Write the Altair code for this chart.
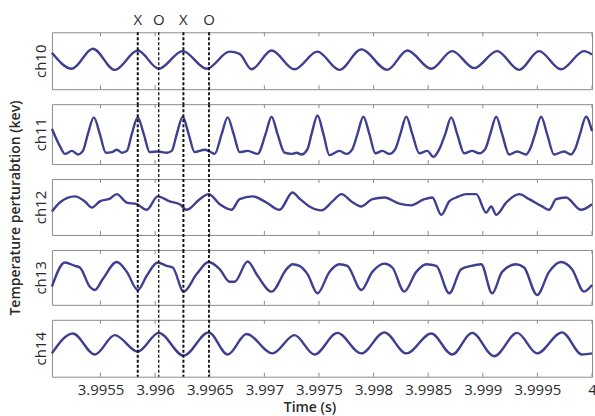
import altair as alt
import pandas as pd

# ---------------- data (times in microseconds after 3.995 s) ----------------
T0 = 3.995

ch10_t = [55, 238, 430, 631, 841, 1033, 1252, 1472, 1682, 1773, 1883, 2066, 2276, 2486,
          2687, 2888, 3126, 3309, 3528, 3720, 3921, 4131, 4333, 4515, 4716, 4927, 5000]
ch10_v = [.64, .36, .71, .34, .68, .36, .67, .36, .66, .62, .35, .68, .35, .66,
          .34, .70, .34, .68, .36, .67, .37, .67, .34, .67, .35, .67, .61]

ch11_t = [55, 128, 174, 238, 293, 339, 384, 439, 494, 549, 604, 649, 695, 741, 786, 841,
          896, 951, 1024, 1106, 1152, 1198, 1253, 1307, 1362, 1454, 1499, 1545, 1609,
          1664, 1719, 1774, 1847, 1938, 2011, 2066, 2121, 2185, 2249, 2295, 2340, 2395,
          2432, 2487, 2541, 2596, 2688, 2752, 2806, 2852, 2907, 2962, 3017, 3081, 3145,
          3199, 3245, 3300, 3355, 3419, 3492, 3547, 3602, 3656, 3711, 3766, 3830, 3903,
          3967, 4022, 4068, 4123, 4177, 4241, 4315, 4397, 4433, 4479, 4534, 4589, 4653,
          4744, 4808, 4845, 4890, 4945, 5000]
ch11_v = [.59, .30, .17, .22, .16, .22, .50, .78, .50, .19, .20, .24, .19, .22, .50, .78,
          .50, .20, .21, .19, .22, .50, .79, .50, .20, .24, .21, .17, .50,
          .78, .50, .20, .22, .17, .50, .79, .50, .19, .17, .19, .16, .25,
          .50, .81, .50, .15, .22, .17, .25, .50, .79, .50, .18, .22, .17,
          .25, .50, .79, .50, .18, .22, .12, .25, .50, .78, .50, .18, .22,
          .18, .25, .50, .79, .50, .16, .21, .16, .25, .50, .79, .50, .16,
          .21, .16, .25, .50, .79, .55]

ch12_t = [55, 128, 265, 357, 421, 494, 585, 649, 741, 832, 923, 1024, 1134, 1225, 1289,
          1408, 1490, 1591, 1700, 1774, 1892, 2020, 2139, 2258, 2322, 2413, 2523, 2623,
          2706, 2797, 2888, 2989, 3099, 3236, 3345, 3464, 3537, 3620, 3693, 3757, 3848,
          3940, 4031, 4077, 4123, 4214, 4333, 4424, 4543, 4607, 4671, 4762, 4899, 5000]
ch12_v = [.42, .58, .69, .60, .49, .60, .65, .73, .58, .55, .45, .69, .60, .55, .45,
          .64, .73, .55, .45, .64, .69, .58, .45, .76, .65, .51, .44, .60,
          .73, .60, .51, .64, .67, .56, .53, .64, .67, .36, .60, .67, .73,
          .73, .40, .51, .36, .58, .73, .64, .51, .45, .64, .67, .45, .55]

ch13_t = [55, 174, 265, 311, 402, 448, 521, 649, 741, 841, 923, 1024, 1106, 1161, 1261,
          1380, 1490, 1591, 1682, 1728, 1847, 1938, 2066, 2203, 2258, 2322, 2395, 2487,
          2596, 2688, 2760, 2888, 2989, 3099, 3172, 3281, 3391, 3482, 3574, 3693, 3802,
          3894, 3985, 4086, 4177, 4305, 4378, 4497, 4607, 4716, 4817, 4927, 5000]
ch13_v = [.33, .77, .71, .68, .33, .27, .47, .78, .60, .27, .53, .77, .71, .68, .24,
          .56, .78, .65, .42, .42, .79, .53, .24, .65, .74, .71, .56, .21,
          .60, .74, .71, .27, .60, .75, .68, .24, .60, .74, .71, .21, .65,
          .71, .74, .21, .60, .74, .68, .18, .60, .78, .65, .24, .36]

ch14_t = [55, 247, 448, 631, 841, 1033, 1261, 1490, 1664, 1837, 2075, 2276, 2459, 2669,
          2888, 3099, 3300, 3528, 3720, 3903, 4104, 4315, 4497, 4726, 4908, 5000]
ch14_v = [.41, .76, .39, .73, .44, .77, .37, .78, .39, .75, .41, .73, .39, .77,
          .41, .78, .41, .76, .39, .77, .36, .77, .41, .78, .39, .41]

marker_t = [841, 1033, 1259, 1493]
marker_label = ["X", "O", "X", "O"]
marker_width = [2.0, 1.3, 2.0, 1.8]

tick_values = [3.9955, 3.996, 3.9965, 3.997, 3.9975, 3.998, 3.9985, 3.999, 3.9995, 4.0]
x_domain = [3.995055, 4.0]

channels = [("ch10", ch10_t, ch10_v), ("ch11", ch11_t, ch11_v), ("ch12", ch12_t, ch12_v),
            ("ch13", ch13_t, ch13_v), ("ch14", ch14_t, ch14_v)]

y_title = "Temperature perturabtion (kev)"
x_title = "Time (s)"

# ---------------- style ----------------
W = 541
heights = [57, 60, 56, 55, 57]
SPACING = 15
LINE = "#3e3f8f"
FONT = "Open Sans"
TXT = "#2a2a2a"
FRAME = "#8c8c8c"

xscale = alt.Scale(domain=x_domain, nice=False, zero=False)
yscale = alt.Scale(domain=[0, 1], nice=False, zero=False)

ticks_df = pd.DataFrame({"tick": tick_values})
markers_df = pd.DataFrame({"time": [T0 + t * 1e-6 for t in marker_t],
                           "label": marker_label, "w": marker_width})


def panel(i):
    name, t, v = channels[i]
    h = heights[i]
    bottom = i == len(channels) - 1
    gap = 0 if bottom else SPACING
    df = pd.DataFrame({"time": [T0 + x * 1e-6 for x in t], "value": v})
    if bottom:
        xaxis = alt.Axis(values=tick_values, format=".4~f", tickSize=0, domain=False,
                         grid=False, labelPadding=6, labelFontSize=15, labelFont=FONT,
                         labelColor=TXT, labelFlush=False, labelOverlap=False,
                         title=x_title, titleFont=FONT, titleFontSize=14,
                         titleFontWeight=600, titleColor=TXT, titleX=258, titleY=31,
                         titleBaseline="middle", titleAlign="center")
    else:
        xaxis = None
    line = alt.Chart(df).mark_line(color=LINE, strokeWidth=2.4, interpolate="monotone").encode(
        x=alt.X("time:Q", scale=xscale, axis=xaxis),
        y=alt.Y("value:Q", scale=yscale,
                axis=alt.Axis(title=name, labels=False, ticks=False, domain=False, grid=False,
                              titleFont=FONT, titleFontSize=15, titleFontWeight="normal",
                              titleColor=TXT, titlePadding=3)),
    )
    tick_top = alt.Chart(ticks_df).mark_rule(color=FRAME, strokeWidth=1).encode(
        x=alt.X("tick:Q", scale=xscale, axis=xaxis), y=alt.value(0), y2=alt.value(4))
    tick_bot = alt.Chart(ticks_df).mark_rule(color=FRAME, strokeWidth=1).encode(
        x=alt.X("tick:Q", scale=xscale, axis=xaxis), y=alt.value(h - 4), y2=alt.value(h))
    rules = alt.Chart(markers_df).mark_rule(color="#111", strokeDash=[3, 2]).encode(
        x=alt.X("time:Q", scale=xscale, axis=xaxis), y=alt.value(0), y2=alt.value(h + gap),
        strokeWidth=alt.StrokeWidth("w:Q", scale=None, legend=None))
    layers = [tick_top, tick_bot, rules]
    if i == 0:
        labels = alt.Chart(markers_df).mark_text(font=FONT, fontSize=15, color=TXT,
                                                 baseline="middle").encode(
            x=alt.X("time:Q", scale=xscale, axis=xaxis), y=alt.value(-12), text="label:N")
        layers.append(labels)
    if i == 2:
        ylab = alt.Chart(pd.DataFrame({"t": [y_title]})).mark_text(
            font=FONT, fontSize=14, fontWeight=600, color=TXT, angle=270,
            baseline="middle", align="center").encode(
            x=alt.value(-36), y=alt.value(h / 2 + 1), text="t:N")
        layers.append(ylab)
    return alt.layer(line, *layers).properties(width=W, height=h)


chart = alt.vconcat(*[panel(i) for i in range(len(channels))],
                    spacing=SPACING, bounds="flush").properties(
    padding={"left": 8, "top": 12, "right": -3, "bottom": 0}, background="white"
).configure_view(stroke=FRAME, strokeWidth=1)

chart.save("out.html", embed_options={"renderer": "svg", "actions": False})
